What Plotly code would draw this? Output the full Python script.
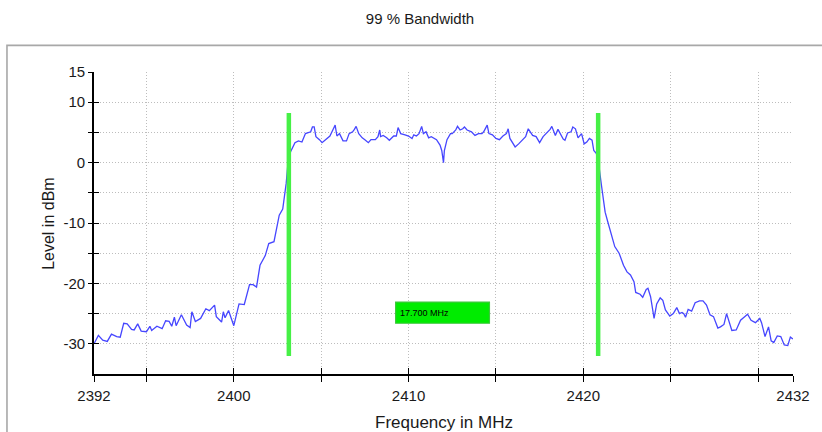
import plotly.graph_objects as go

# ---- data ----
freq_mhz = [
    2392.0, 2392.25, 2392.5, 2392.76, 2393.0, 2393.3, 2393.5, 2393.7, 2393.9, 2394.15,
    2394.3, 2394.5, 2394.7, 2395.0, 2395.2, 2395.3, 2395.6, 2395.9, 2396.1, 2396.3,
    2396.45, 2396.6, 2396.7, 2397.0, 2397.3, 2397.5, 2397.6, 2397.8, 2398.1, 2398.4,
    2398.6, 2398.9, 2399.0, 2399.3, 2399.4, 2399.5, 2399.7, 2400.0, 2400.3, 2400.6,
    2400.9, 2401.1, 2401.3, 2401.5, 2401.8, 2402.0, 2402.3, 2402.6, 2402.8, 2403.0,
    2403.1, 2403.25, 2403.5, 2403.7, 2403.9, 2404.1, 2404.4, 2404.5, 2404.6, 2404.7,
    2404.9, 2405.05, 2405.25, 2405.5, 2405.7, 2405.8, 2405.9, 2406.05, 2406.25, 2406.45,
    2406.6, 2406.8, 2406.9, 2407.0, 2407.15, 2407.35, 2407.5, 2407.7, 2407.85, 2408.1,
    2408.25, 2408.35, 2408.4, 2408.55, 2408.75, 2408.9, 2409.15, 2409.3, 2409.4, 2409.55,
    2409.8, 2410.0, 2410.2, 2410.3, 2410.45, 2410.6, 2410.75, 2410.85, 2411.0, 2411.15,
    2411.3, 2411.6, 2411.8, 2411.9, 2412.0, 2412.05, 2412.2, 2412.4, 2412.5, 2412.7,
    2412.8, 2412.95, 2413.1, 2413.2, 2413.35, 2413.6, 2413.8, 2414.0, 2414.2, 2414.3,
    2414.5, 2414.6, 2414.8, 2415.0, 2415.2, 2415.4, 2415.6, 2415.7, 2415.8, 2416.1,
    2416.3, 2416.5, 2416.7, 2416.85, 2417.0, 2417.1, 2417.3, 2417.5, 2417.7, 2417.9,
    2418.1, 2418.2, 2418.4, 2418.55, 2418.85, 2418.95, 2419.1, 2419.3, 2419.4, 2419.55,
    2419.7, 2419.9, 2420.05, 2420.2, 2420.35, 2420.5, 2420.6, 2420.75, 2420.9, 2421.05,
    2421.25, 2421.4, 2421.6, 2421.8, 2422.05, 2422.3, 2422.5, 2422.7, 2422.9, 2423.0,
    2423.25, 2423.4, 2423.6, 2423.7, 2423.85, 2424.05, 2424.2, 2424.4, 2424.55, 2424.7,
    2424.95, 2425.15, 2425.35, 2425.5, 2425.65, 2425.75, 2425.85, 2426.0, 2426.2, 2426.4,
    2426.65, 2426.85, 2427.05, 2427.25, 2427.45, 2427.7, 2427.85, 2428.05, 2428.2, 2428.35,
    2428.5, 2428.75, 2429.0, 2429.2, 2429.4, 2429.6, 2429.85, 2430.1, 2430.2, 2430.4,
    2430.6, 2430.75, 2430.9, 2431.1, 2431.3, 2431.5, 2431.7, 2431.85, 2432.0,
]
level_dbm = [
    -30.0, -28.6, -29.4, -29.6, -28.4, -28.8, -28.9, -26.6, -26.7, -27.6,
    -27.7, -26.7, -27.9, -28.0, -27.1, -27.8, -27.1, -27.5, -26.2, -26.3,
    -27.1, -25.6, -27.0, -25.2, -26.9, -27.3, -24.7, -26.3, -25.8, -24.2,
    -24.5, -23.6, -25.5, -26.4, -24.7, -25.7, -24.5, -27.0, -23.4, -23.5,
    -20.2, -20.2, -20.6, -17.0, -15.4, -13.4, -13.1, -8.7, -7.7, -3.4,
    -0.1, 1.8, 3.3, 3.6, 3.4, 4.8, 5.1, 5.9, 5.9, 4.3,
    3.8, 3.3, 3.8, 4.4, 5.6, 6.2, 4.4, 4.8, 3.6, 3.6,
    4.8, 5.1, 5.5, 6.0, 4.8, 4.1, 3.8, 3.3, 3.8, 3.8,
    4.3, 5.4, 4.3, 4.5, 4.1, 3.7, 4.4, 4.4, 5.8, 4.8,
    4.6, 4.4, 4.0, 4.6, 4.4, 4.8, 6.0, 4.8, 5.1, 4.1,
    4.3, 3.8, 2.9, 2.0, 0.0, 2.0, 3.8, 4.8, 4.8, 5.4,
    6.0, 5.4, 5.6, 5.9, 5.4, 5.1, 4.5, 4.8, 4.8, 5.1,
    6.2, 4.8, 4.6, 4.0, 3.8, 4.4, 4.8, 5.6, 4.0, 2.6,
    3.1, 3.7, 4.3, 5.6, 4.8, 4.5, 4.3, 3.3, 4.3, 4.9,
    5.5, 6.0, 4.5, 5.5, 3.9, 3.7, 4.9, 5.1, 5.9, 5.6,
    4.1, 4.8, 3.1, 3.4, 4.0, 3.7, 2.0, 1.5, -0.7, -4.0,
    -8.2, -9.8, -11.7, -13.9, -15.0, -17.0, -18.1, -18.6, -19.7, -21.5,
    -21.8, -22.3, -21.0, -20.8, -22.2, -25.8, -23.4, -22.4, -22.8, -24.4,
    -25.4, -25.0, -24.0, -25.0, -24.8, -25.0, -25.6, -24.3, -24.6, -23.2,
    -22.9, -22.9, -23.6, -25.2, -25.5, -27.4, -27.2, -26.8, -25.0, -26.6,
    -27.8, -27.7, -26.1, -25.6, -25.1, -26.1, -26.5, -25.8, -26.5, -28.8,
    -27.2, -29.5, -29.8, -28.7, -28.8, -30.2, -30.3, -28.9, -29.2,
]

bw_low_mhz = 2403.15
bw_high_mhz = 2420.85
marker_level_range = [-32.0, 8.2]
bw_label = f"{bw_high_mhz - bw_low_mhz:.3f} MHz"
label_box_x = [2409.26, 2414.63]
label_box_y = [-26.6, -23.1]

x_tickvals = [2392, 2395, 2400, 2405, 2410, 2415, 2420, 2425, 2430, 2432]
x_ticktext = ["2392", "", "2400", "", "2410", "", "2420", "", "", "2432"]
y_tickvals = [-30, -25, -20, -15, -10, -5, 0, 5, 10, 15]
y_ticktext = ["-30", "", "-20", "", "-10", "", "0", "", "10", "15"]
x_range = [2392, 2432]
y_range = [-35, 15]

FONT = "Liberation Sans, Arial, sans-serif"

fig = go.Figure()
fig.add_trace(go.Scatter(
    x=freq_mhz, y=level_dbm, mode="lines",
    line=dict(color="#4646ff", width=1.3), showlegend=False, hoverinfo="skip",
))
# invisible trace on overlay axes (for inward half of crossing ticks)
fig.add_trace(go.Scatter(x=[x_range[0]], y=[y_range[0]], xaxis="x2", yaxis="y2",
                         mode="markers", marker=dict(opacity=0), showlegend=False,
                         hoverinfo="skip"))

# occupied bandwidth markers
for xv in (bw_low_mhz, bw_high_mhz):
    fig.add_shape(type="line", xref="x", yref="y", x0=xv, x1=xv,
                  y0=marker_level_range[0], y1=marker_level_range[1],
                  line=dict(color="#46f046", width=4.5), layer="above")

# label box
fig.add_shape(type="rect", xref="x", yref="y",
              x0=label_box_x[0], x1=label_box_x[1], y0=label_box_y[0], y1=label_box_y[1],
              fillcolor="#00ec00", line=dict(color="#3cc83c", width=1.2), layer="above")
fig.add_annotation(x=label_box_x[0] + 0.12, y=sum(label_box_y) / 2, xref="x", yref="y",
                   text=bw_label, showarrow=False, xanchor="left", yanchor="middle",
                   font=dict(family=FONT, size=9, color="#000000"))

# axis titles
fig.add_annotation(x=0.5, y=-0.159, xref="paper", yref="paper", text="Frequency in MHz",
                   showarrow=False, xanchor="center", yanchor="middle",
                   font=dict(family=FONT, size=17, color="#1a1a1a"))
fig.add_annotation(x=-0.066, y=0.5, xref="paper", yref="paper", text="Level in dBm",
                   showarrow=False, xanchor="center", yanchor="middle", textangle=-90,
                   font=dict(family=FONT, size=16, color="#1a1a1a"))

# outer panel frame
fig.add_shape(type="rect", xref="paper", yref="paper",
              x0=-0.1245, x1=1.08, y0=-0.4, y1=1.088,
              line=dict(color="#a8a8a8", width=1.6), fillcolor="rgba(0,0,0,0)", layer="below")

axis_common = dict(showgrid=True, gridcolor="#bdbdbd", griddash="1px,2px", gridwidth=1,
                   zeroline=False, ticks="outside", tickcolor="#000000", tickwidth=1.4,
                   tickfont=dict(family=FONT, size=15, color="#1a1a1a"),
                   showline=True, linecolor="#000000", linewidth=1.6, automargin=False)

fig.update_layout(
    width=822, height=432,
    margin=dict(l=94, r=29, t=72, b=58, autoexpand=False),
    paper_bgcolor="white", plot_bgcolor="white",
    title=dict(text="99 % Bandwidth", x=420 / 822, xref="container", xanchor="center",
               y=1 - 19 / 432, yanchor="middle",
               font=dict(family=FONT, size=15, color="#1a1a1a")),
    xaxis=dict(range=x_range, tickmode="array", tickvals=x_tickvals, ticktext=x_ticktext,
               ticklen=6, ticklabelstandoff=1, **axis_common),
    yaxis=dict(range=y_range, tickmode="array", tickvals=y_tickvals, ticktext=y_ticktext,
               ticklen=4, **axis_common),
    xaxis2=dict(range=x_range, overlaying="x", anchor="y2", tickmode="array",
                tickvals=x_tickvals, ticks="inside", ticklen=6, tickwidth=1.4,
                tickcolor="#000000", showticklabels=False, showgrid=False,
                zeroline=False, showline=False),
    yaxis2=dict(range=y_range, overlaying="y", anchor="x2", tickmode="array",
                tickvals=y_tickvals, ticks="inside", ticklen=5, tickwidth=1.4,
                tickcolor="#000000", showticklabels=False, showgrid=False,
                zeroline=False, showline=False),
)

fig.write_html("out.html", config={"displayModeBar": False},
               post_script="document.body.style.margin='0';")
